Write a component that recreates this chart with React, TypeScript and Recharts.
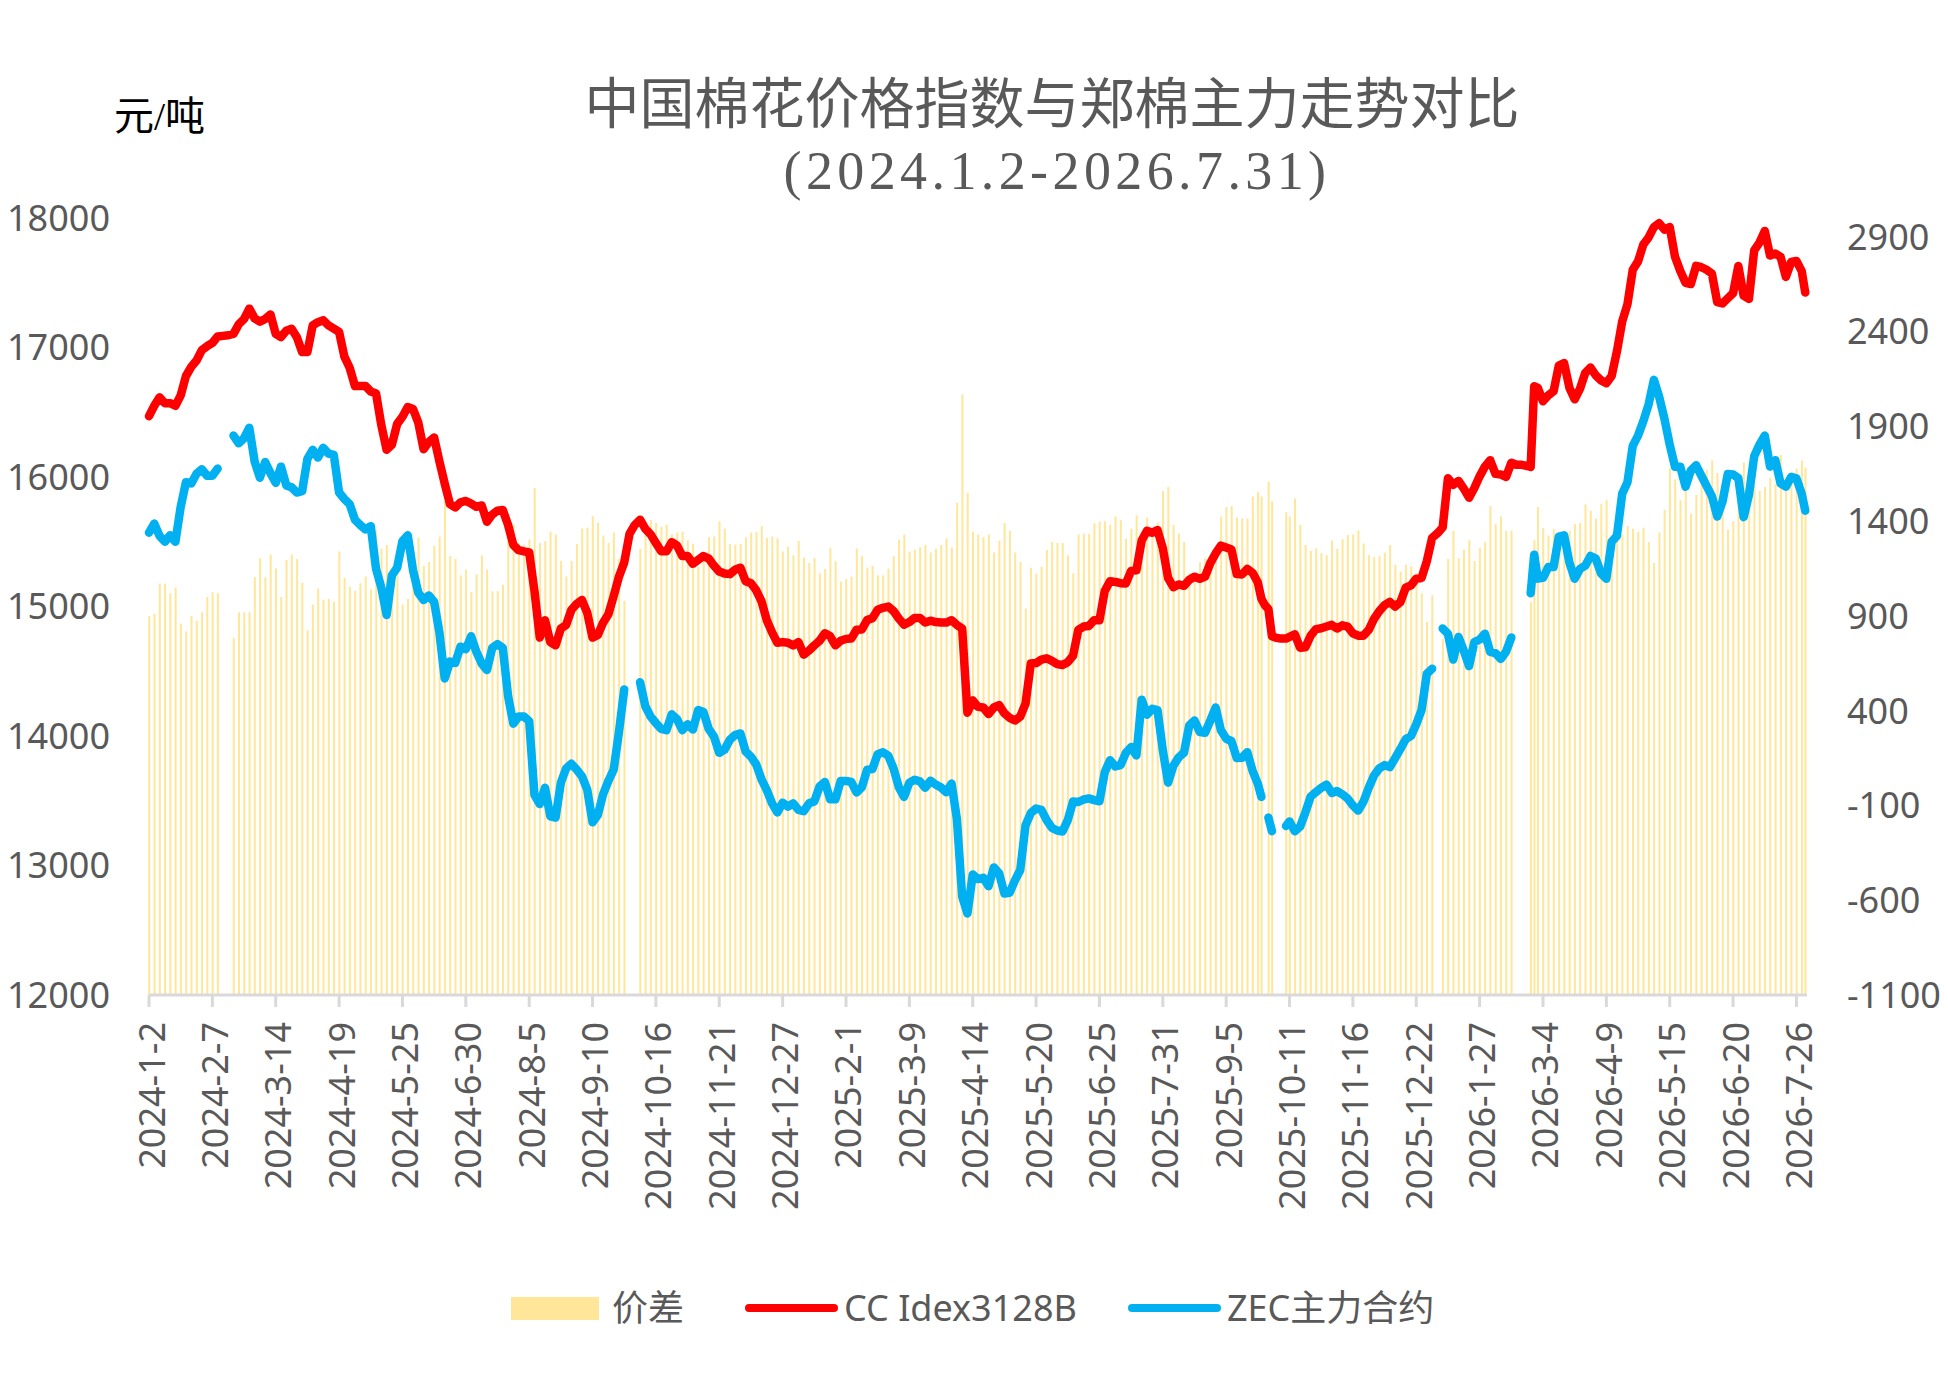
import { ComposedChart, Bar, Line, XAxis, YAxis } from 'recharts';

// day offsets counted from 2024-1-2
const days = [
  0, 3, 6, 9, 12, 15, 18, 21, 24, 27,
  30, 33, 36, 39, 42, 45, 48, 51, 54, 57,
  60, 63, 66, 69, 72, 75, 78, 81, 84, 87,
  90, 93, 96, 99, 102, 105, 108, 111, 114, 117,
  120, 123, 126, 129, 132, 135, 138, 141, 144, 147,
  150, 153, 156, 159, 162, 165, 168, 171, 174, 177,
  180, 183, 186, 189, 192, 195, 198, 201, 204, 207,
  210, 213, 216, 219, 222, 225, 228, 231, 234, 237,
  240, 243, 246, 249, 252, 255, 258, 261, 264, 267,
  270, 273, 276, 279, 282, 285, 288, 291, 294, 297,
  300, 303, 306, 309, 312, 315, 318, 321, 324, 327,
  330, 333, 336, 339, 342, 345, 348, 351, 354, 357,
  360, 363, 366, 369, 372, 375, 378, 381, 384, 387,
  390, 393, 396, 399, 402, 405, 408, 411, 414, 417,
  420, 423, 426, 429, 432, 435, 438, 441, 444, 447,
  450, 453, 456, 459, 462, 465, 468, 471, 474, 477,
  480, 483, 486, 489, 492, 495, 498, 501, 504, 507,
  510, 513, 516, 519, 522, 525, 528, 531, 534, 537,
  540, 543, 546, 549, 552, 555, 558, 561, 564, 567,
  570, 573, 576, 579, 582, 585, 588, 591, 594, 597,
  600, 603, 606, 609, 612, 615, 618, 621, 624, 627,
  630, 632, 634, 636, 638, 640, 643, 646, 648, 651,
  654, 657, 660, 663, 666, 669, 672, 675, 678, 681,
  684, 687, 690, 693, 696, 699, 702, 705, 708, 711,
  714, 717, 720, 723, 726, 729, 732, 735, 738, 741,
  744, 747, 750, 753, 756, 759, 762, 765, 768, 771,
  774, 777, 780, 783, 785, 787, 789, 792, 795, 798,
  801, 804, 807, 810, 813, 816, 819, 822, 825, 828,
  831, 834, 837, 840, 843, 846, 849, 852, 855, 858,
  861, 864, 867, 870, 873, 876, 879, 882, 885, 888,
  891, 894, 897, 900, 903, 906, 909, 912, 915, 918,
  921, 924, 927, 930, 933, 936, 939, 941,
];

// CC Index 3128B, 元/吨
const ccIndex = [
  16470, 16550, 16615, 16570, 16570, 16550, 16630, 16780, 16850, 16900,
  16980, 17010, 17035, 17085, 17090, 17095, 17105, 17180, 17220, 17300,
  17225, 17200, 17220, 17255, 17105, 17080, 17130, 17145, 17080, 16965,
  16965, 17170, 17195, 17210, 17170, 17145, 17120, 16930, 16844, 16703,
  16703, 16703, 16660, 16645, 16400, 16210, 16250, 16410, 16465, 16540,
  16525, 16420, 16215, 16270, 16305, 16120, 15950, 15790, 15765, 15805,
  15815, 15795, 15770, 15780, 15655, 15710, 15740, 15745, 15630, 15475,
  15435, 15426, 15418, 15120, 14760, 14894, 14725, 14700, 14830, 14858,
  14975, 15020, 15050, 14950, 14760, 14780, 14875, 14940, 15080, 15230,
  15340, 15560, 15630, 15670, 15600, 15557, 15490, 15426, 15426, 15497,
  15470, 15390, 15390, 15330, 15360, 15390, 15370, 15315, 15270, 15255,
  15250, 15284, 15300, 15195, 15180, 15125, 15040, 14894, 14800, 14720,
  14725, 14720, 14700, 14725, 14628, 14660, 14700, 14735, 14793, 14770,
  14700, 14735, 14750, 14752, 14820, 14823, 14895, 14910, 14975, 14990,
  14999, 14965, 14907, 14860, 14880, 14912, 14912, 14876, 14890, 14880,
  14876, 14876, 14894, 14858, 14830, 14180, 14275, 14225, 14220, 14170,
  14220, 14238, 14175, 14140, 14120, 14150, 14250, 14560, 14563, 14590,
  14600, 14580, 14555, 14548, 14570, 14620, 14820, 14845, 14850, 14894,
  14894, 15120, 15195, 15190, 15180, 15178, 15275, 15280, 15510, 15585,
  15570, 15590, 15450, 15220, 15150, 15170, 15160, 15205, 15230, 15214,
  15231, 15335, 15410, 15470, 15455, 15440, 15250, 15248, 15290, 15260,
  15185, 15060, 15010, 14980, 14770, 14760, 14752, 14752, 14765, 14785,
  14681, 14685, 14775, 14825, 14832, 14845, 14858, 14830, 14855, 14844,
  14793, 14775, 14775, 14820, 14905, 14965, 15010, 15035, 15000, 15035,
  15145, 15163, 15215, 15220, 15350, 15530, 15565, 15610, 15990, 15940,
  15970, 15910, 15840, 15915, 16005, 16080, 16130, 16024, 16020, 16000,
  16110, 16094, 16094, 16085, 16077, 16700, 16690, 16585, 16630, 16662,
  16860, 16880, 16690, 16600, 16680, 16804, 16845, 16785, 16746, 16725,
  16780, 16970, 17200, 17335, 17600, 17665, 17795, 17850, 17930, 17960,
  17910, 17930, 17700, 17590, 17500, 17490, 17630, 17620, 17600, 17570,
  17350, 17340, 17380, 17420, 17630, 17400, 17375, 17750, 17810, 17900,
  17710, 17725, 17700, 17545, 17660, 17668, 17590, 17424,
];

// 郑棉主力合约, null where the exchange was closed
const zecMain = [
  15570, 15640, 15545, 15500, 15550, 15500, 15770, 15960, 15950, 16025,
  16060, 16010, 16010, 16065, null, null, 16320, 16260, 16300, 16380,
  16120, 15995, 16115, 16030, 15955, 16080, 15935, 15920, 15880, 15890,
  16140, 16210, 16150, 16225, 16180, 16170, 15880, 15830, 15790, 15670,
  15630, 15595, 15620, 15290, 15145, 14935, 15240, 15300, 15505, 15550,
  15280, 15106, 15050, 15085, 15035, 14800, 14445, 14574, 14565, 14690,
  14670, 14770, 14650, 14560, 14510, 14680, 14710, 14680, 14310, 14095,
  14150, 14150, 14115, 13545, 13475, 13600, 13380, 13370, 13640, 13750,
  13785, 13740, 13688, 13585, 13334, 13390, 13550, 13653, 13740, 14030,
  14360, null, null, 14415, 14230, 14150, 14100, 14055, 14045, 14167,
  14130, 14045, 14090, 14050, 14200, 14185, 14055, 13995, 13870, 13895,
  13970, 14008, 14020, 13880, 13840, 13780, 13665, 13582, 13480, 13410,
  13485, 13455, 13480, 13430, 13420, 13480, 13495, 13610, 13645, 13511,
  13511, 13653, 13653, 13645, 13564, 13605, 13740, 13745, 13860, 13875,
  13848, 13750, 13605, 13530, 13640, 13662, 13650, 13600, 13655, 13625,
  13602, 13566, 13633, 13360, 12760, 12630, 12930, 12895, 12905, 12840,
  12985, 12940, 12784, 12790, 12885, 12965, 13310, 13405, 13440, 13430,
  13350, 13290, 13270, 13263, 13350, 13495, 13490, 13510, 13518, 13505,
  13496, 13720, 13813, 13765, 13775, 13870, 13915, 13850, 14280, 14165,
  14210, 14200, 13890, 13640, 13770, 13835, 13870, 14080, 14120, 14030,
  14025, 14120, 14220, 14045, 13980, 13960, 13830, 13832, 13875, 13730,
  13630, 13530, null, 13370, 13265, null, null, 13305, 13340, 13265,
  13300, 13410, 13532, 13567, 13600, 13625, 13560, 13575, 13550, 13517,
  13463, 13424, 13493, 13600, 13695, 13750, 13775, 13760, 13830, 13900,
  13975, 14000, 14090, 14200, 14480, 14520, null, 14830, 14790, 14590,
  14765, 14660, 14540, 14725, 14745, 14790, 14650, 14640, 14595, 14650,
  14760, null, null, null, 15102, 15400, 15215, 15222, 15305, 15305,
  15540, 15550, 15340, 15215, 15290, 15315, 15390, 15370, 15255, 15215,
  15500, 15545, 15870, 15960, 16240, 16320, 16430, 16560, 16750, 16620,
  16450, 16250, 16080, 16080, 15925, 16050, 16090, 16010, 15930, 15850,
  15695, 15810, 16024, 16020, 15990, 15690, 15860, 16160, 16250, 16320,
  16080, 16130, 15950, 15925, 16000, 15990, 15870, 15740,
];

const tickLabels = [
  '2024-1-2', '2024-2-7', '2024-3-14', '2024-4-19', '2024-5-25', '2024-6-30',
  '2024-8-5', '2024-9-10', '2024-10-16', '2024-11-21', '2024-12-27', '2025-2-1',
  '2025-3-9', '2025-4-14', '2025-5-20', '2025-6-25', '2025-7-31', '2025-9-5',
  '2025-10-11', '2025-11-16', '2025-12-22', '2026-1-27', '2026-3-4', '2026-4-9',
  '2026-5-15', '2026-6-20', '2026-7-26',
];
const leftTicks = [12000, 13000, 14000, 15000, 16000, 17000, 18000];
const rightTicks = [-1100, -600, -100, 400, 900, 1400, 1900, 2400, 2900];

const AXIS_FONT = "'Noto Sans', 'Noto Sans CJK SC', sans-serif";
const GREY = '#595959';
const SPREAD_BASE = -1100;

const START = Date.UTC(2024, 0, 2);
function dayOf(label: string) {
  const [y, m, d] = label.split('-').map(Number);
  return Math.round((Date.UTC(y, m - 1, d) - START) / 86400000);
}
const tickDays = tickLabels.map(dayOf);

const chartData = days.map((day, i) => {
  const zec = zecMain[i];
  return {
    day,
    cc: ccIndex[i],
    zec,
    spread: zec == null ? null : [SPREAD_BASE, ccIndex[i] - zec],
  };
});

function DateTick({ x, y, payload }: any) {
  const label = tickLabels[tickDays.indexOf(payload.value)];
  return (
    <text
      x={x + 2}
      y={y}
      transform={`rotate(-90 ${x + 2} ${y})`}
      textAnchor="end"
      dominantBaseline="central"
      fill={GREY}
      fontSize={36}
      fontFamily={AXIS_FONT}
    >
      {label}
    </text>
  );
}

const legendText = {
  position: 'absolute' as const,
  top: 1283,
  height: 50,
  lineHeight: '50px',
  fontSize: 36,
  color: GREY,
  fontFamily: AXIS_FONT,
  whiteSpace: 'nowrap' as const,
};

export default function App() {
  return (
    <div style={{ position: 'absolute', left: 0, top: 0, width: 1948, height: 1375, background: '#fff' }}>
      <ComposedChart
        width={1948}
        height={1375}
        data={chartData}
        margin={{ top: 218, right: 0, bottom: 140, left: 0 }}
      >
        <XAxis
          dataKey="day"
          type="number"
          domain={[0, 942]}
          ticks={tickDays}
          interval={0}
          height={240}
          axisLine={{ stroke: '#D9D9D9', strokeWidth: 3 }}
          tickLine={{ stroke: '#D9D9D9', strokeWidth: 3 }}
          tickSize={12}
          tickMargin={15}
          tick={(p: any) => <DateTick {...p} />}
        />
        <YAxis
          yAxisId="left"
          domain={[12000, 18000]}
          ticks={leftTicks}
          interval={0}
          width={149}
          axisLine={false}
          tickLine={false}
          tickSize={0}
          tickMargin={39}
          tick={{ fill: GREY, fontSize: 36, fontFamily: AXIS_FONT }}
        />
        <YAxis
          yAxisId="right"
          orientation="right"
          domain={[-1100, 3000]}
          ticks={rightTicks}
          interval={0}
          width={141}
          axisLine={false}
          tickLine={false}
          tickSize={0}
          tickMargin={40}
          tick={{ fill: GREY, fontSize: 36, fontFamily: AXIS_FONT }}
        />
        <Bar yAxisId="right" dataKey="spread" fill="#FFE699" barSize={2} isAnimationActive={false} />
        <Line
          yAxisId="left"
          type="linear"
          dataKey="cc"
          stroke="#FF0000"
          strokeWidth={8.5}
          strokeLinejoin="round"
          strokeLinecap="round"
          dot={false}
          activeDot={false}
          connectNulls
          isAnimationActive={false}
        />
        <Line
          yAxisId="left"
          type="linear"
          dataKey="zec"
          stroke="#00B0F0"
          strokeWidth={8.5}
          strokeLinejoin="round"
          strokeLinecap="round"
          dot={false}
          activeDot={false}
          connectNulls={false}
          isAnimationActive={false}
        />
      </ComposedChart>

      <div
        style={{
          position: 'absolute', left: 114, top: 97, fontSize: 40, lineHeight: '40px',
          fontFamily: "'Liberation Serif', 'Noto Sans CJK SC', serif", color: '#000', whiteSpace: 'nowrap',
        }}
      >
        元/吨
      </div>
      <div
        style={{
          position: 'absolute', left: 1052, top: 72, transform: 'translateX(-50%)', fontSize: 55,
          lineHeight: '55px', fontFamily: "'Noto Sans CJK SC', sans-serif", color: GREY, whiteSpace: 'nowrap',
        }}
      >
        中国棉花价格指数与郑棉主力走势对比
      </div>
      <div
        style={{
          position: 'absolute', left: 1057, top: 144, transform: 'translateX(-50%)', fontSize: 54,
          lineHeight: '54px', letterSpacing: 4.4, fontFamily: "'Liberation Serif', serif", color: GREY,
          whiteSpace: 'nowrap',
        }}
      >
        (2024.1.2-2026.7.31)
      </div>

      <div style={{ position: 'absolute', left: 511, top: 1297, width: 88, height: 23, background: '#FFE699' }} />
      <div style={{ ...legendText, left: 612 }}>价差</div>
      <div style={{ position: 'absolute', left: 745, top: 1304, width: 93, height: 8, borderRadius: 4, background: '#FF0000' }} />
      <div style={{ ...legendText, left: 844 }}>CC Idex3128B</div>
      <div style={{ position: 'absolute', left: 1128, top: 1304, width: 93, height: 8, borderRadius: 4, background: '#00B0F0' }} />
      <div style={{ ...legendText, left: 1227 }}>ZEC主力合约</div>
    </div>
  );
}
